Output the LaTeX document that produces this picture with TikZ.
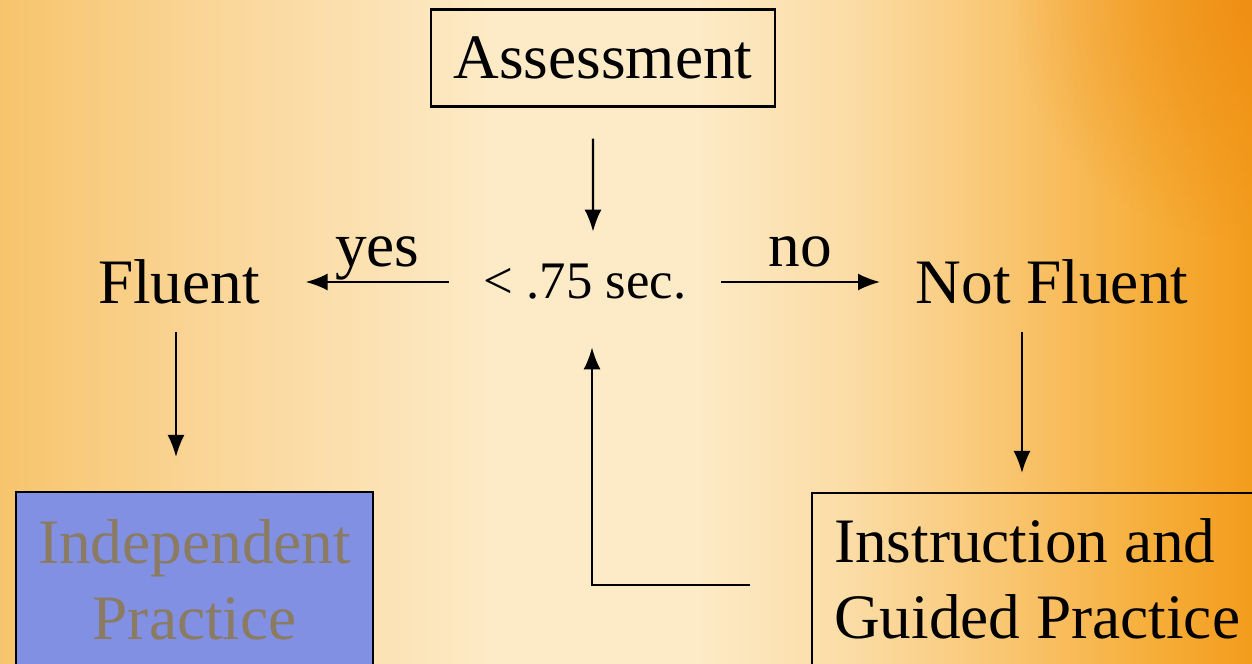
\documentclass[tikz,border=0pt]{standalone}
\usepackage{fontspec}
\setmainfont{Liberation Serif}
\usepackage{xcolor}
\usetikzlibrary{arrows.meta, positioning, calc, fadings}

\definecolor{bgleft}{HTML}{F7C46C}
\definecolor{bgleftin}{HTML}{FAD596}
\definecolor{bgmid}{HTML}{FDEBC8}
\definecolor{bgrightin}{HTML}{FBDCA5}
\definecolor{bgrightmid}{HTML}{F9C672}
\definecolor{bgrightout}{HTML}{F6AE3A}
\definecolor{bgright}{HTML}{F39C1C}
\definecolor{bgdark}{HTML}{EE8A10}
\definecolor{indepfill}{HTML}{8190E3}
\definecolor{indeptext}{HTML}{8B7B62}

% 25bp..75bp of the shading is stretched over the slide
\pgfdeclarehorizontalshading{slidebg}{100bp}{color(0bp)=(bgleft); color(25bp)=(bgleft); color(33bp)=(bgleftin);
  color(45bp)=(bgmid); color(52.5bp)=(bgmid); color(59bp)=(bgrightin); color(65bp)=(bgrightmid);
  color(71bp)=(bgrightout); color(75bp)=(bgright); color(100bp)=(bgright)}
\tikzfading[name=cornerfade, inner color=transparent!30, outer color=transparent!100]

\begin{document}
\begin{tikzpicture}[x=0.01cm, y=-0.01cm,
    every node/.style={font=\fontsize{18}{21.6}\selectfont},
    arr/.style={-{Latex[length=0.22cm,width=0.17cm]}, line width=0.6pt}]
                        \useasboundingbox (0,0) rectangle (1252,664);
                        \clip (0,0) rectangle (1252,664);
                        \shade[shading=slidebg] (0,0) rectangle (1252,664);
                        \fill[bgdark, path fading=cornerfade] (1252,0) circle (240);
                        % boxes and labels
                        \node[draw, line width=0.6pt, minimum width=3.43cm, minimum height=0.97cm] (assess) at (603,58) {Assessment};
                        \node[inner xsep=0.34cm, inner ysep=0.32cm, font=\fontsize{15}{18}\selectfont] (sec) at (585,282) {< .75 sec.};
                        \node[inner xsep=0.45cm, inner ysep=0.27cm] (fluent) at (179,282) {Fluent};
                        \node[inner xsep=0.35cm, inner ysep=0.27cm] (notfl) at (1052,282) {Not Fluent};
                        \node[draw, line width=0.6pt, fill=indepfill, text=indeptext, anchor=north west,
                              text width=3.17cm, inner xsep=0.2cm, inner ysep=0.28cm, align=center] (indep) at (15,491) {Independent\\Practice};
                        \node[draw, line width=0.6pt, anchor=north west,
                              text width=4.6cm, inner xsep=0.22cm, inner ysep=0.26cm, align=flush left] (instr) at (811,492) {Instruction and\\Guided Practice};
                        \coordinate (fb) at (750,585);
                        % connectors
                        \draw[arr] ([xshift=-0.1cm, yshift=-0.31cm]assess.south) -- ([xshift=0.08cm]sec.north);
                        \draw[arr] (sec.west) -- (fluent.east) node[midway, anchor=base, yshift=0.15cm] {yes};
                        \draw[arr] (sec.east) -- (notfl.west) node[midway, anchor=base, yshift=0.15cm] {no};
                        \draw[arr, shorten >=0.34cm] ([xshift=-0.03cm]fluent.south) -- ([xshift=-0.03cm]fluent.south |- indep.north);
                        \draw[arr, shorten >=0.19cm] ([xshift=-0.3cm]notfl.south) -- ([xshift=-0.3cm]notfl.south |- instr.north);
                        \draw[arr, shorten >=0.15cm] (fb) -| ([xshift=0.07cm]sec.south);
                    \end{tikzpicture}
\end{document}
